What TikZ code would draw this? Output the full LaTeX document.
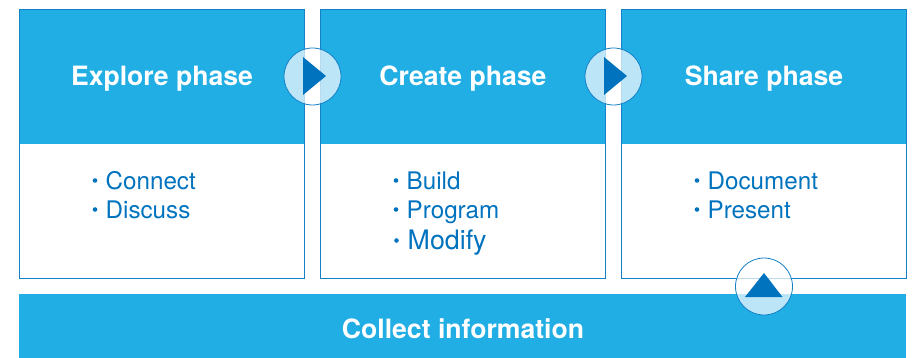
\documentclass[tikz,border=0pt]{standalone}
\usepackage{fontspec}
\setmainfont{TeX Gyre Heros}
\definecolor{sky}{HTML}{21AEE5}
\definecolor{deep}{HTML}{0073BF}
\definecolor{edge}{HTML}{1380C8}
\tikzset{
  x=1pt,y=-1pt,
  panel/.style={draw=edge,line width=0.9pt,fill=white},
  title/.style={text=white,font=\fontsize{26.6}{29}\selectfont\bfseries,inner sep=0pt,anchor=base},
  item/.style={text=deep,font=\fontsize{24.2}{27}\selectfont,inner sep=0pt,anchor=base west},
  dot/.style={circle,fill=deep,inner sep=0pt,minimum size=4.6pt},
  lens/.style={circle,draw=edge,line width=0.8pt,fill=white,fill opacity=0.7,minimum size=57pt,inner sep=0pt},
  tip/.style={fill=deep}
}
\begin{document}
\begin{tikzpicture}
\useasboundingbox (0,0) rectangle (913,358);
\foreach \n/\x in {a/19.5,b/320.5,c/621.5}{
  \draw[panel] (\x,9.5) rectangle (\x+285,278.5);
  \fill[sky] (\x,10) rectangle (\x+285,144);
  \draw[edge,line width=0.9pt] (\x,144) -- (\x,9.5) -- (\x+285,9.5) -- (\x+285,144);
}
\node[title] (t1) at (162,86) {Explore phase};
\node[title] (t2) at (463,86) {Create phase};
\node[title] (t3) at (764,86) {Share phase};
\foreach \x/\y/\s/\n in {105.5/189.5/Connect/i1,105.5/218.5/Discuss/i2,406.5/189.5/Build/i3,406.5/218.5/Program/i4,707.5/189.5/Document/i5,707.5/218.5/Present/i6}{
  \node[item] (\n) at (\x,\y) {\s};
  \node[dot] (d\n) at (\x-10.5,\y-9) {};
}
\node[item,font=\fontsize{26.8}{30}\selectfont] (i7) at (407.5,250) {Modify};
\node[dot] (di7) at (396.5,240.5) {};
\fill[sky] (19,294) rectangle (906,358);
\node[title] (t4) at (463,338) {Collect information};
\node[lens] (c1) at (312.5,76.5) {};
\node[lens] (c2) at (613.5,76.5) {};
\node[lens] (c3) at (764,286.5) {};
\fill[tip] (303,57) -- (326,76) -- (303,95) -- cycle;
\fill[tip] (604,57) -- (627,76) -- (604,95) -- cycle;
\fill[tip] (745,297) -- (764,273) -- (782.5,297) -- cycle;
\end{tikzpicture}
\end{document}
